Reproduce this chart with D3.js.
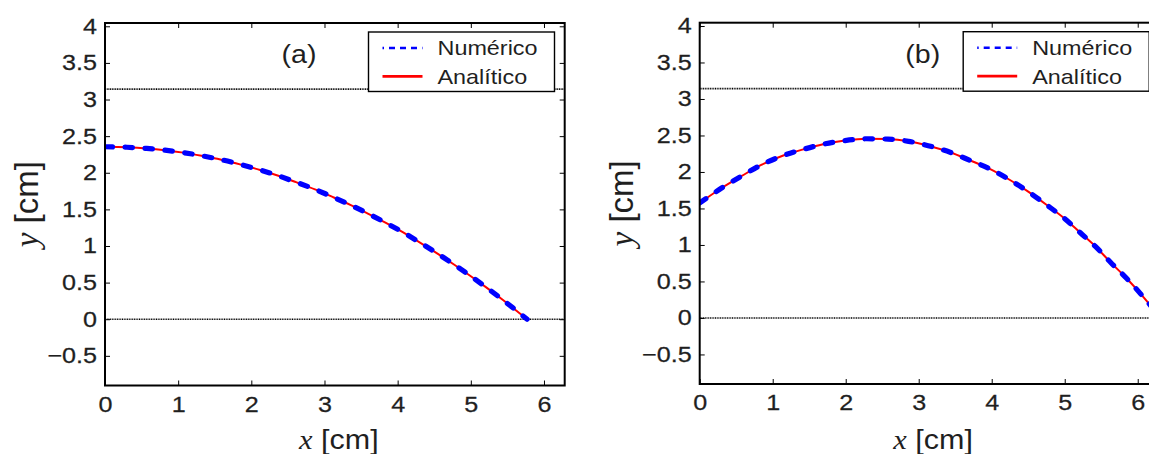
<!DOCTYPE html>
<html>
<head>
<meta charset="utf-8">
<script src="https://cdn.jsdelivr.net/npm/d3@7"></script>
<style>
  body { margin: 0; background: #fff; }
  svg { display: block; }
</style>
</head>
<body>
<svg id="fig" width="1149" height="454"></svg>
<script>
// Axis ticks and limits (x spans 0..2π, both panels share the same scales)
const xTicks = [0, 1, 2, 3, 4, 5, 6];
const yTicks = [-0.5, 0, 0.5, 1, 1.5, 2, 2.5, 3, 3.5, 4];
const xDomain = [0, 6.2832];
const yDomain = [-0.905, 4.045];

// Horizontal reference levels (floor and ceiling of the region)
const guideLevels = [0, 3.1416];

const seriesNames = ["Numérico", "Analítico"];
const panelTags = ["(a)", "(b)"];

// Trajectory (a): numerical and analytical solutions coincide at this scale
const trajAX = [0, 0.30, 0.57, 0.82, 1.07, 1.32, 1.59, 1.87, 2.12, 2.38, 2.62, 2.87, 3.12,
                3.36, 3.60, 3.84, 4.07, 4.30, 4.55, 4.78, 5.01, 5.22, 5.44, 5.68, 5.77];
const trajAY = [2.355, 2.348, 2.332, 2.308, 2.275, 2.232, 2.178, 2.108, 2.038, 1.955, 1.868, 1.773, 1.666,
                1.558, 1.440, 1.315, 1.188, 1.050, 0.893, 0.740, 0.580, 0.428, 0.262, 0.072, 0];

// Trajectory (b)
const trajBX = [0, 0.30, 0.575, 0.85, 1.145, 1.42, 1.69, 1.99, 2.29, 2.58, 2.86, 3.13, 3.43,
                3.70, 3.98, 4.25, 4.50, 4.75, 5.00, 5.21, 5.42, 5.63, 5.85, 6.04, 6.15, 6.28];
const trajBY = [1.575, 1.78, 1.945, 2.10, 2.225, 2.31, 2.38, 2.43, 2.455, 2.45, 2.42, 2.36, 2.27,
                2.16, 2.04, 1.89, 1.73, 1.55, 1.36, 1.17, 0.98, 0.76, 0.54, 0.33, 0.20, 0.05];

const svg = d3.select("#fig");
const INK = "#1f1f1f";
const SANS = "'Liberation Sans', Arial, Helvetica, sans-serif";
const SERIF = "'Liberation Serif', 'Times New Roman', serif";

const panels = [
  { left: 105,   top: 23,   width: 459.7, height: 362.5, xs: trajAX, ys: trajAY, tag: panelTags[0], tagDx: 194 },
  { left: 699.7, top: 22.7, width: 458.7, height: 361.3, xs: trajBX, ys: trajBY, tag: panelTags[1], tagDx: 223 }
];

const fmtY = d => d < 0 ? "\u2212" + Math.abs(d) : String(d);

panels.forEach((p, i) => {
  const g = svg.append("g");
  const x = d3.scaleLinear().domain(xDomain).range([p.left, p.left + p.width]);
  const y = d3.scaleLinear().domain(yDomain).range([p.top + p.height, p.top]);
  const pts = p.xs.map((v, k) => [v, p.ys[k]]);

  const clipId = "clip" + i;
  svg.append("clipPath").attr("id", clipId)
    .append("rect").attr("x", p.left).attr("y", p.top).attr("width", p.width).attr("height", p.height);

  // dotted reference levels
  g.selectAll("line.guide").data(guideLevels).join("line")
    .attr("class", "guide")
    .attr("x1", x(xDomain[0])).attr("x2", x(xDomain[1]))
    .attr("y1", d => y(d)).attr("y2", d => y(d))
    .attr("stroke", "#000").attr("stroke-width", 1.6)
    .attr("stroke-dasharray", "1,0.7");

  const line = d3.line().x(d => x(d[0])).y(d => y(d[1])).curve(d3.curveMonotoneX);
  const curves = g.append("g").attr("clip-path", `url(#${clipId})`);

  // analytical solution: thin solid red
  curves.append("path").datum(pts)
    .attr("d", line).attr("fill", "none")
    .attr("stroke", "#ff0000").attr("stroke-width", 2);

  // numerical solution: thick dashed blue
  curves.append("path").datum(pts)
    .attr("d", line).attr("fill", "none")
    .attr("stroke", "#0000ff").attr("stroke-width", 5.2)
    .attr("stroke-linecap", "round")
    .attr("stroke-dasharray", "7.5,12.5");

  const bottom = p.top + p.height;
  const right = p.left + p.width;

  // bottom axis with labels
  const gx = g.append("g").attr("transform", `translate(0,${bottom})`)
    .call(d3.axisBottom(x).tickValues(xTicks).tickSizeInner(-5).tickSizeOuter(0)
      .tickPadding(11).tickFormat(d3.format("d")));
  // top axis ticks only
  const gxt = g.append("g").attr("transform", `translate(0,${p.top})`)
    .call(d3.axisTop(x).tickValues(xTicks).tickSizeInner(-5).tickSizeOuter(0).tickFormat(""));
  // left axis with labels
  const gy = g.append("g").attr("transform", `translate(${p.left},0)`)
    .call(d3.axisLeft(y).tickValues(yTicks).tickSizeInner(-5).tickSizeOuter(0).tickFormat(fmtY));
  // right axis ticks only
  const gyr = g.append("g").attr("transform", `translate(${right},0)`)
    .call(d3.axisRight(y).tickValues(yTicks).tickSizeInner(-5).tickSizeOuter(0).tickFormat(""));

  [gx, gxt, gy, gyr].forEach(a => {
    a.select(".domain").remove();
    a.selectAll(".tick line").attr("stroke", "#000").attr("stroke-width", 1);
  });

  gx.selectAll(".tick text")
    .attr("font-family", SANS).attr("font-size", 21.5).attr("fill", INK)
    .attr("stroke", INK).attr("stroke-width", 0.25)
    .attr("transform", "scale(1.17,1)");
  gy.selectAll(".tick text")
    .attr("x", null)
    .attr("font-family", SANS).attr("font-size", 21.5).attr("fill", INK)
    .attr("stroke", INK).attr("stroke-width", 0.25)
    .attr("transform", "translate(-8,0) scale(1.17,1)");
  gxt.selectAll(".tick text").remove();
  gyr.selectAll(".tick text").remove();

  // axes box
  g.append("rect")
    .attr("x", p.left).attr("y", p.top).attr("width", p.width).attr("height", p.height)
    .attr("fill", "none").attr("stroke", "#000").attr("stroke-width", 2);

  // x label
  const xl = g.append("text")
    .attr("transform", `translate(${(p.left + right) / 2 + 4},449) scale(1.13,1)`)
    .attr("text-anchor", "middle").attr("fill", INK).attr("font-size", 27).attr("font-family", SANS);
  xl.append("tspan").attr("font-family", SERIF).attr("font-style", "italic").text("x");
  xl.append("tspan").text(" [cm]");

  // y label
  const yl = g.append("text")
    .attr("transform", `translate(${p.left - 67},${(p.top + bottom) / 2}) rotate(-90)`)
    .attr("text-anchor", "middle").attr("fill", INK).attr("font-size", 33).attr("font-family", SANS);
  yl.append("tspan").attr("font-family", SERIF).attr("font-style", "italic").text("y");
  yl.append("tspan").text(" [cm]");

  // panel tag
  g.append("text")
    .attr("transform", `translate(${p.left + p.tagDx},${p.top + 40}) scale(1.1,1)`)
    .attr("text-anchor", "middle").attr("fill", INK)
    .attr("font-family", SANS).attr("font-size", 26)
    .text(p.tag);

  // legend
  const lx = p.left + 263.5, ly = p.top + 9;
  const lg = g.append("g").attr("transform", `translate(${lx},${ly})`);
  lg.append("rect").attr("width", 186).attr("height", 59.5)
    .attr("fill", "#fff").attr("stroke", "#000").attr("stroke-width", 1.4);
  const items = [
    { name: seriesNames[0], color: "#0000ff", dash: "6,5", off: 4.5, w: 2.6, ly: 16, ty: 23.4 },
    { name: seriesNames[1], color: "#ff0000", dash: null, off: 0, w: 2.6, ly: 44.4, ty: 52 }
  ];
  items.forEach(it => {
    const ln = lg.append("line").attr("x1", 14).attr("x2", 54)
      .attr("y1", it.ly).attr("y2", it.ly)
      .attr("stroke", it.color).attr("stroke-width", it.w);
    if (it.dash) ln.attr("stroke-dasharray", it.dash).attr("stroke-dashoffset", it.off);
    lg.append("text")
      .attr("transform", `translate(69,${it.ty}) scale(1.17,1)`)
      .attr("fill", INK).attr("font-family", SANS).attr("font-size", 20)
      .text(it.name);
  });
});
</script>
</body>
</html>
